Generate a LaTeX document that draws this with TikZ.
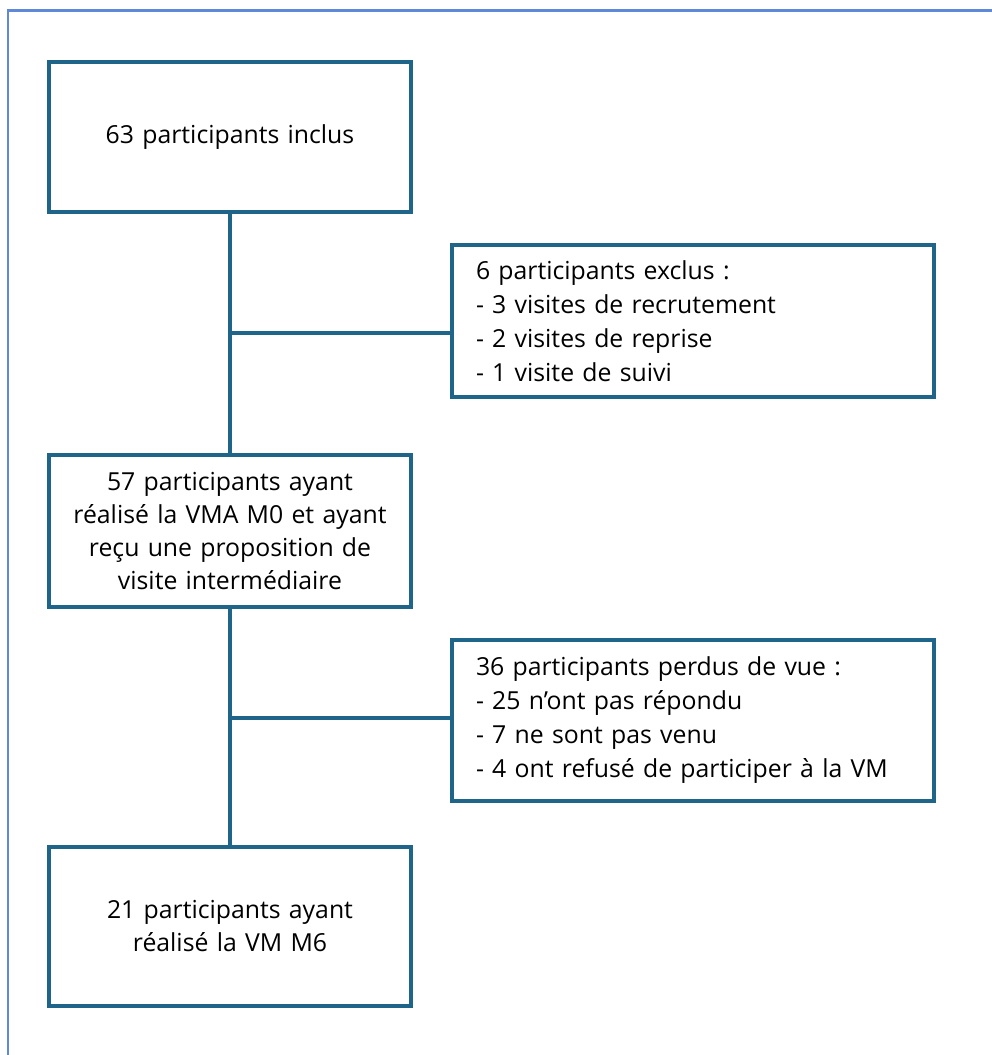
\documentclass[tikz,border=0pt]{standalone}
\usepackage{fontspec}
\setmainfont{Open Sans}
\usepackage{xcolor}
\definecolor{boxblue}{RGB}{31,101,137}
\definecolor{framblue}{RGB}{96,136,216}
\usetikzlibrary{positioning, calc}

\begin{document}
\begin{tikzpicture}[x=1pt, y=-1pt,
    stage/.style={draw=boxblue, line width=3.2pt, minimum width=362pt,
      inner sep=4pt, align=center, text width=350pt,
      font=\fontsize{24.8}{33}\selectfont},
    loss/.style={draw=boxblue, line width=3.2pt, minimum width=482pt,
      inner xsep=24pt, align=left, text width=434pt,
      font=\fontsize{24.8}{34}\selectfont},
    flow/.style={draw=boxblue, line width=3.2pt}
]
\useasboundingbox (0,0) rectangle (992,1055);
% frame
\draw[framblue, line width=2.4pt] (8,1060) -- (8,10.5) -- (1000,10.5);
% main stages
\node[stage, minimum height=150pt] (incl) at (230,137)   {63 participants inclus};
\node[stage, minimum height=152pt] (m0)   at (230,531)   {57 participants ayant\\réalisé la VMA M0 et ayant\\reçu une proposition de\\visite intermédiaire};
\node[stage, minimum height=159pt] (m6)   at (230,926.5) {21 participants ayant\\réalisé la VM M6};
% exclusions
\node[loss, minimum height=152pt] (excl) at (693,321)   {6 participants exclus :\\- 3 visites de recrutement\\- 2 visites de reprise\\- 1 visite de suivi};
\node[loss, minimum height=161pt] (lost) at (693,720.5) {36 participants perdus de vue :\\- 25 n’ont pas répondu\\- 7 ne sont pas venu\\- 4 ont refusé de participer à la VM};
\coordinate (j1) at (230,333);
\coordinate (j2) at (230,718);
\draw[flow] (incl) -- (m0);
\draw[flow] (m0) -- (m6);
\draw[flow] (j1) -- (j1 -| excl.west);
\draw[flow] (j2) -- (j2 -| lost.west);
\end{tikzpicture}
\end{document}
